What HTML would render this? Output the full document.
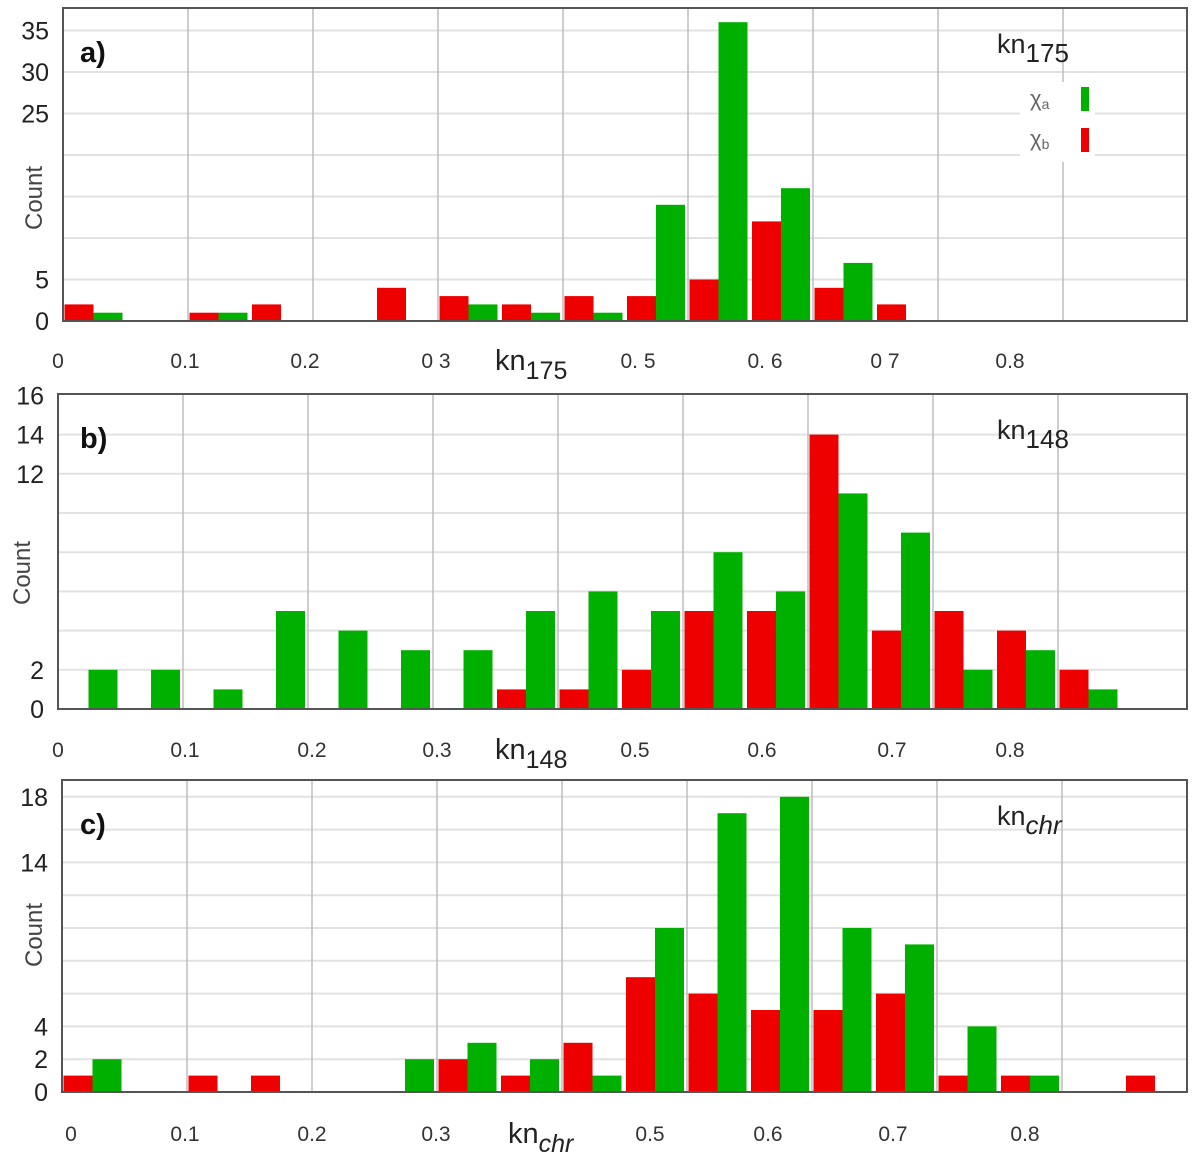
<!DOCTYPE html>
<html><head><meta charset="utf-8"><style>
body{margin:0;background:#fff;width:1200px;height:1153px;overflow:hidden}
text{font-family:"Liberation Sans","DejaVu Sans",sans-serif}
</style></head><body>
<svg id="chart" width="1200" height="1153" xmlns="http://www.w3.org/2000/svg"></svg>
<script>
// Panel a (kn175)
const aRed   = [2,0,1,2,0,4,3,2,3,3,5,12,4,2];
const aGreen = [1,0,1,0,0,0,2,1,1,14,36,16,7,0];
// Panel b (kn148)
const bRed   = [0,0,0,0,0,0,0,1,1,2,5,5,14,4,5,4,2];
const bGreen = [2,2,1,5,4,3,3,5,6,5,8,6,11,9,2,3,1];
// Panel c (knchr)
const cRed   = [1,0,1,1,0,0,2,1,3,7,6,5,5,6,1,1,0,1];
const cGreen = [2,0,0,0,0,2,3,2,1,10,17,18,10,9,4,1,0,0];
// Tick labels
const aYTicks = [0,5,25,30,35];
const bYTicks = [0,2,12,14,16];
const cYTicks = [0,2,4,14,18];
const aXLabels = ["0","0.1","0.2","0 3","0. 5","0. 6","0 7","0.8"];
const bXLabels = ["0","0.1","0.2","0.3","0.5","0.6","0.7","0.8"];
const cXLabels = ["0","0.1","0.2","0.3","0.5","0.6","0.7","0.8"];

const NS="http://www.w3.org/2000/svg";
const svg=document.getElementById('chart');
function mk(tag,attrs,parent){const e=document.createElementNS(NS,tag);for(const k in attrs)e.setAttribute(k,attrs[k]);(parent||svg).appendChild(e);return e;}

function panel(cfg){
  const g=mk('g',{});
  
  
  const yScale=v=>cfg.y0-v*cfg.ppc;
  const xBin=k=>cfg.left+k*62.5;
  // gridlines horizontal
  for(let v=cfg.gstep; yScale(v)>cfg.top+2; v+=cfg.gstep){
    const l=mk('line',{x1:cfg.left,x2:cfg.right,y1:yScale(v),y2:yScale(v),stroke:'#e2e2e2','stroke-width':2},g);
    
    
  }
  for(let i=1;i<=8;i++){
    const x=cfg.left+125*i;
    const l=mk('line',{x1:x,x2:x,y1:cfg.top,y2:cfg.y0,stroke:'#bdbdbd','stroke-width':1.5},g);
    
    
  }
  // bars
  cfg.red.forEach((v,k)=>{ if(!v) return;
    const r=mk('rect',{x:xBin(k)+1.5,y:yScale(v),width:29,height:v*cfg.ppc,fill:'#ee0000'},g);
    
    
  });
  cfg.green.forEach((v,k)=>{ if(!v) return;
    const r=mk('rect',{x:xBin(k)+30.5,y:yScale(v),width:29,height:v*cfg.ppc,fill:'#00b000'},g);
    
    
  });
  // frame
  const f=mk('rect',{x:cfg.left,y:cfg.top,width:cfg.right-cfg.left,height:cfg.y0-cfg.top,fill:'none',stroke:'#555','stroke-width':2},g);
  
  
  // y ticks
  cfg.yt.forEach(v=>{
    const t=mk('text',{x:cfg.left-14,y:yScale(v)+9,'text-anchor':'end','font-size':25,fill:'#222'},g);
    t.textContent=v;
    
    
  });
  cfg.xl.forEach((s,i)=>{
    const t=mk('text',{x:cfg.xpos[i],y:cfg.xly,'text-anchor':'middle','font-size':21,fill:'#333'},g);
    t.textContent=s;
    
    
  });
  const yt=mk('text',{transform:`translate(${cfg.cx},${cfg.cy}) rotate(-90)`,'text-anchor':'middle','font-size':24,fill:'#444'},g);
  yt.textContent='Count';
  
  
  const xt=mk('text',{x:cfg.xtx,y:cfg.xly+2,'font-size':29,fill:'#222'},g);
  xt.innerHTML='kn<tspan dy="9" font-size="25" '+(cfg.ital?'font-style="italic"':'')+'>'+cfg.sub+'</tspan>';
  
  
  const lt=mk('text',{x:997,y:cfg.top+45,'font-size':27,fill:'#222'},g);
  lt.innerHTML='kn<tspan dy="9" font-size="26" '+(cfg.ital?'font-style="italic"':'')+'>'+cfg.sub+'</tspan>';
  
  
  const pl=mk('text',{x:80,y:cfg.top+54,'font-size':29,'font-weight':'bold',fill:'#111'},g);
  pl.textContent=cfg.label;
  
  
  return g;
}
panel({name:'panel-a',left:63,right:1187,top:8,y0:321,ppc:8.3,gstep:5,red:aRed,green:aGreen,yt:aYTicks,xl:aXLabels,
  xpos:[58,185,305,436,638,765,885,1010],xly:368,cx:42,cy:198,xtx:495,sub:'175',ital:false,label:'a)'});
panel({name:'panel-b',left:58,right:1187,top:394,y0:709,ppc:19.6,gstep:2,red:bRed,green:bGreen,yt:bYTicks,xl:bXLabels,
  xpos:[58,185,312,437,635,762,892,1010],xly:757,cx:30,cy:573,xtx:495,sub:'148',ital:false,label:'b)'});
panel({name:'panel-c',left:62,right:1187,top:780,y0:1092,ppc:16.4,gstep:2,red:cRed,green:cGreen,yt:cYTicks,xl:cXLabels,
  xpos:[71,185,312,436,650,768,893,1025],xly:1141,cx:42,cy:935,xtx:508,sub:'chr',ital:true,label:'c)'});
// legend
const lg=mk('g',{});


mk('rect',{x:1020,y:82,width:75,height:80,fill:'#fff'},lg);
const la=mk('text',{x:1030,y:106,'font-size':22,fill:'#666'},lg);
la.innerHTML='χ<tspan font-size="14" dy="3">a</tspan>';


mk('rect',{x:1081,y:87,width:8,height:24,fill:'#00b000'},lg);
const lb=mk('text',{x:1030,y:146,'font-size':22,fill:'#666'},lg);
lb.innerHTML='χ<tspan font-size="14" dy="3">b</tspan>';


mk('rect',{x:1081,y:128,width:8,height:24,fill:'#ee0000'},lg);
</script>
</body></html>
